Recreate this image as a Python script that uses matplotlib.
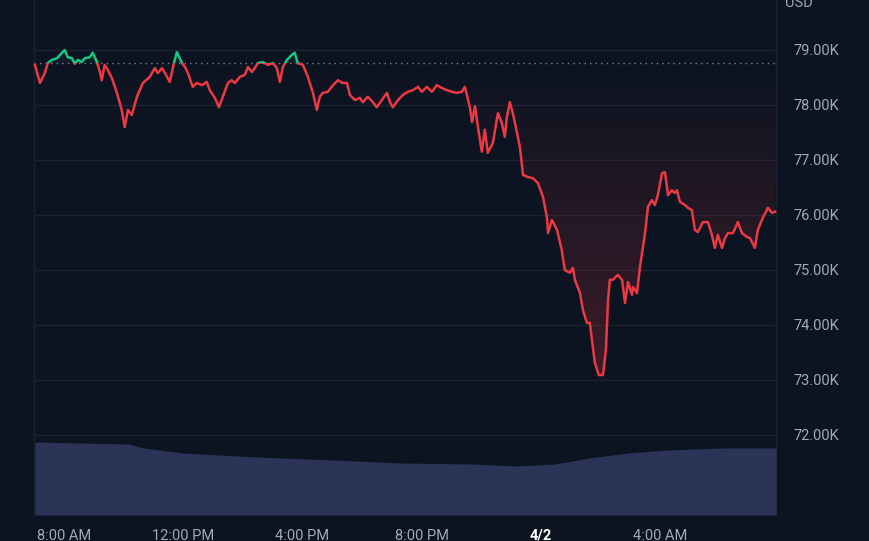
import matplotlib
matplotlib.use("Agg")
import matplotlib.pyplot as plt
import numpy as np
from matplotlib.colors import LinearSegmentedColormap
from matplotlib.patches import Rectangle
from matplotlib.path import Path

# hours after 8:00 AM (4/1) and BTC price in USD
hours = [
    -0.97, -0.80, -0.64, -0.54, -0.40, -0.23, -0.13, 0.03, 0.13, 0.27, 0.37, 0.47, 0.60, 0.70,
    0.87, 0.97, 1.11, 1.21, 1.27, 1.37, 1.47, 1.61, 1.78, 1.94, 2.04, 2.15, 2.28, 2.45, 2.65,
    2.88, 3.05, 3.15, 3.29, 3.39, 3.55, 3.69, 3.79, 3.96, 4.06, 4.16, 4.32, 4.46, 4.63, 4.79,
    4.89, 5.06, 5.20, 5.33, 5.50, 5.63, 5.73, 5.90, 6.07, 6.17, 6.30, 6.40, 6.50, 6.67, 6.84,
    7.01, 7.14, 7.24, 7.34, 7.48, 7.64, 7.74, 7.84, 8.01, 8.18, 8.35, 8.48, 8.58, 8.68, 8.85,
    9.02, 9.19, 9.35, 9.49, 9.59, 9.76, 9.92, 10.02, 10.19, 10.36, 10.49, 10.66, 10.83, 10.93,
    11.03, 11.20, 11.36, 11.53, 11.70, 11.87, 12.00, 12.17, 12.34, 12.50, 12.67, 12.84, 13.01,
    13.17, 13.34, 13.44, 13.61, 13.68, 13.78, 13.88, 14.01, 14.11, 14.21, 14.38, 14.55, 14.68,
    14.78, 14.85, 14.95, 15.05, 15.19, 15.29, 15.39, 15.55, 15.72, 15.89, 16.06, 16.19, 16.23,
    16.36, 16.53, 16.69, 16.79, 16.96, 17.06, 17.13, 17.30, 17.40, 17.53, 17.63, 17.70, 17.80,
    17.93, 18.07, 18.17, 18.24, 18.30, 18.40, 18.57, 18.71, 18.81, 18.91, 19.04, 19.08, 19.21,
    19.31, 19.48, 19.58, 19.71, 19.81, 19.91, 20.05, 20.15, 20.25, 20.38, 20.48, 20.55, 20.65,
    20.82, 20.92, 21.05, 21.15, 21.25, 21.42, 21.59, 21.72, 21.82, 21.92, 22.06, 22.16, 22.26,
    22.43, 22.59, 22.73, 22.90, 23.00, 23.16, 23.26, 23.43, 23.60, 23.73, 23.84,
]
price = [
    78730, 78400, 78580, 78760, 78820, 78850, 78910, 79000, 78870, 78850, 78750, 78820, 78780, 78850,
    78870, 78950, 78780, 78600, 78450, 78730, 78640, 78490, 78220, 77910, 77600, 77910, 77820, 78150, 78400,
    78510, 78670, 78580, 78670, 78580, 78420, 78760, 78960, 78760, 78690, 78580, 78330, 78400, 78360, 78420,
    78270, 78130, 77960, 78150, 78400, 78450, 78400, 78510, 78550, 78690, 78600, 78670, 78760, 78780, 78730,
    78760, 78670, 78420, 78690, 78820, 78910, 78950, 78760, 78730, 78510, 78220, 77910, 78150, 78220, 78240,
    78360, 78450, 78400, 78400, 78180, 78090, 78130, 78050, 78150, 78050, 77960, 78090, 78220, 78050,
    77960, 78090, 78180, 78240, 78270, 78330, 78240, 78330, 78240, 78360, 78310, 78270, 78240,
    78220, 78240, 78330, 77960, 77690, 77980, 77600, 77150, 77550, 77130, 77310, 77850, 77670,
    77420, 77780, 78050, 77850, 77490, 77220, 76730, 76690, 76670, 76580, 76330, 75960, 75670,
    75910, 75730, 75360, 75000, 74950, 75040, 74820, 74580, 74270, 74040, 74040, 73730, 73310,
    73090, 73090, 73550, 74450, 74820, 74820, 74910, 74820, 74400, 74780, 74550, 74690, 74580,
    75050, 75670, 76150, 76270, 76180, 76360, 76760, 76780, 76360, 76450, 76400, 76450, 76240,
    76180, 76130, 76090, 75730, 75690, 75870, 75870, 75640, 75400, 75640, 75400, 75580, 75670,
    75670, 75870, 75670, 75600, 75580, 75400, 75730, 75950, 76130, 76040, 76060,
]
open_price = 78760

# 24h volume (billions USD)
vol_hours = [-0.97, 2.15, 2.68, 3.99, 6.44, 9.02, 11.26, 13.68, 15.19, 16.49, 17.60, 18.91, 20.21, 22.06, 23.87]
volume = [36.5, 35.5, 33.5, 31.0, 29.0, 27.5, 26.0, 25.5, 24.5, 25.5, 28.5, 31.0, 32.5, 33.5, 33.5]

tick_hours = [0, 4, 8, 12, 16, 20]
tick_labels = ["8:00 AM", "12:00 PM", "4:00 PM", "8:00 PM", "4/2", "4:00 AM"]
price_ticks = [72000, 73000, 74000, 75000, 76000, 77000, 78000, 79000]

BG = "#0d1421"
GRID = "#1b2330"
RED = "#ea3943"
GREEN = "#16c784"
LABEL = "#a1a7bb"

plt.rcParams["font.family"] = ["Roboto", "DejaVu Sans"]

fig = plt.figure(figsize=(8.7, 5.41), dpi=100)
fig.patch.set_facecolor(BG)
ax = fig.add_axes([34 / 870, 26 / 541, 742 / 870, 515 / 541])
ax.set_facecolor(BG)

# volume on its own hidden scale (made first so it does not move the price ticks)
axv = ax.twinx()
axv.set_ylim(0, 257.5)
axv.fill_between(vol_hours, volume, 0, color="#2b3357", lw=0)
axv.set_yticks([])
for s in axv.spines.values():
    s.set_visible(False)

t = np.array(hours)
p = np.array(price)
ax.set_xlim(-1.0, 23.87)
ax.set_ylim(70545, 79909)

for v in price_ticks:
    ax.axhline(v, color=GRID, lw=1.0, zorder=0)

# gradient fill between line and open price
fill = ax.fill_between(t, p, open_price, where=p < open_price, interpolate=True, color="none", lw=0)
red_cmap = LinearSegmentedColormap.from_list("r", [(0.92, 0.22, 0.26, 0.22), (0.92, 0.22, 0.26, 0.0)])
grad = np.linspace(0, 1, 256).reshape(-1, 1)
img = ax.imshow(grad, extent=[t[0], t[-1], 73000, open_price], origin="lower", aspect="auto",
                cmap=red_cmap, zorder=1, interpolation="bicubic")
img.set_clip_path(Path.make_compound_path(*fill.get_paths()), transform=ax.transData)
ax.fill_between(t, p, open_price, where=p > open_price, interpolate=True, color=GREEN, alpha=0.06, lw=0, zorder=1)

ax.axhline(open_price, color="#7d8494", lw=1.0, ls=(0, (1, 3)), zorder=2)

red_line, = ax.plot(t, p, color=RED, lw=1.8, zorder=3, solid_joinstyle="round")
green_line, = ax.plot(t, p, color=GREEN, lw=1.8, zorder=3, solid_joinstyle="round")
red_line.set_clip_path(Rectangle((-5, 60000), 40, open_price - 60000, transform=ax.transData))
green_line.set_clip_path(Rectangle((-5, open_price), 40, 10000, transform=ax.transData))

ax.yaxis.tick_right()
ax.set_yticks(price_ticks)
ax.set_yticklabels([f"{v / 1000:.2f}K" for v in price_ticks])
ax.tick_params(axis="y", which="both", left=False, labelleft=False, right=False, labelright=True,
               pad=9, labelsize=10.5, labelcolor=LABEL)
ax.set_xticks(tick_hours)
ax.set_xticklabels(tick_labels)
ax.tick_params(axis="x", length=0, pad=10, labelsize=10.5, labelcolor=LABEL)
for lbl in ax.get_xticklabels():
    if lbl.get_text() == "4/2":
        lbl.set_color("white")
        lbl.set_fontweight("bold")

for side in ["top", "bottom"]:
    ax.spines[side].set_visible(False)
for side in ["left", "right"]:
    ax.spines[side].set_color(GRID)
    ax.spines[side].set_linewidth(1.0)

fig.text(785 / 870, 1 - 7 / 541, "USD", color=LABEL, fontsize=10.5, va="baseline", ha="left")

fig.savefig("out.png", dpi=100, facecolor=BG)
